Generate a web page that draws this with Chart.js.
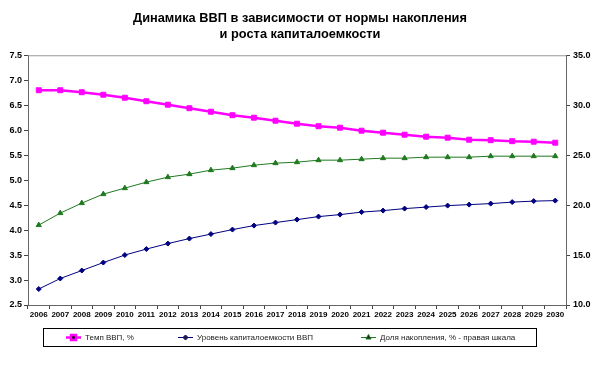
<!DOCTYPE html>
<html>
<head>
    <meta charset="utf-8">
    <title>Динамика ВВП</title>
    <script src="https://cdn.jsdelivr.net/npm/chart.js"></script>
    <style>
        body { margin: 0; background: #fff; }
    </style>
</head>
<body>
    <canvas id="gdpChart" width="600" height="371"></canvas>

    <script>
        // years on the x axis
        const years = ['2006', '2007', '2008', '2009', '2010', '2011', '2012', '2013', '2014', '2015', '2016', '2017',
            '2018', '2019', '2020', '2021', '2022', '2023', '2024', '2025', '2026', '2027', '2028', '2029', '2030'];

        // left scale
        const gdpGrowth = [6.80, 6.80, 6.76, 6.71, 6.65, 6.58, 6.51, 6.44, 6.37, 6.30, 6.25, 6.19,
            6.13, 6.08, 6.05, 5.99, 5.95, 5.91, 5.87, 5.85, 5.81, 5.80, 5.78, 5.77, 5.75];
        const capitalIntensity = [2.82, 3.03, 3.19, 3.35, 3.50, 3.62, 3.73, 3.83, 3.92, 4.01, 4.09, 4.15,
            4.21, 4.27, 4.31, 4.36, 4.39, 4.43, 4.46, 4.49, 4.51, 4.53, 4.56, 4.58, 4.59];

        // right scale
        const savingsShare = [18.0, 19.2, 20.2, 21.1, 21.7, 22.3, 22.8, 23.1, 23.5, 23.7, 24.0, 24.2,
            24.3, 24.5, 24.5, 24.6, 24.7, 24.7, 24.8, 24.8, 24.8, 24.9, 24.9, 24.9, 24.9];

        const seriesNames = ['Темп ВВП, %', 'Уровень капиталоемкости ВВП', 'Доля накопления, % - правая шкала'];

        // excel-style boxed legend under the chart + top border of the plot
        const boxLegend = {
            id: 'boxLegend',
            afterDraw(chart) {
                const ctx = chart.ctx;
                const area = chart.chartArea;
                ctx.save();
                ctx.strokeStyle = '#999';
                ctx.lineWidth = 1;
                ctx.beginPath();
                ctx.moveTo(area.left, area.top + 0.5);
                ctx.lineTo(area.right, area.top + 0.5);
                ctx.stroke();

                ctx.strokeStyle = '#000';
                ctx.strokeRect(43.5, 328.5, 493, 18);

                const itemX = [66, 178, 361];
                const y = 337.5;
                chart.data.datasets.forEach((ds, i) => {
                    const x = itemX[i];
                    ctx.strokeStyle = ds.borderColor;
                    ctx.lineWidth = ds.borderWidth;
                    ctx.beginPath();
                    ctx.moveTo(x, y);
                    ctx.lineTo(x + 15, y);
                    ctx.stroke();
                    Chart.helpers.drawPoint(ctx, {
                        pointStyle: ds.pointStyle,
                        radius: ds.pointRadius,
                        borderWidth: 1
                    }, x + 7.5, y);
                    ctx.fillStyle = '#222';
                    ctx.font = '8px "Liberation Sans", Arial, sans-serif';
                    ctx.textBaseline = 'middle';
                    ctx.textAlign = 'left';
                    ctx.fillText(ds.label, x + 19, y);
                });
                ctx.restore();
            }
        };

        const ctx = document.getElementById('gdpChart').getContext('2d');
        const tickFont = { family: '"Liberation Sans", Arial, sans-serif', size: 9, weight: 'bold' };

        const gdpChart = new Chart(ctx, {
            type: 'line',
            data: {
                labels: years,
                datasets: [
                    {
                        label: seriesNames[0],
                        data: gdpGrowth,
                        yAxisID: 'y',
                        borderColor: '#ff00ff',
                        backgroundColor: '#ff00ff',
                        borderWidth: 2.5,
                        pointStyle: 'rect',
                        pointRadius: 3.5,
                        pointBorderWidth: 1,
                        tension: 0
                    },
                    {
                        label: seriesNames[1],
                        data: capitalIntensity,
                        yAxisID: 'y',
                        borderColor: '#000080',
                        backgroundColor: '#000080',
                        borderWidth: 1,
                        pointStyle: 'rectRot',
                        pointRadius: 2.5,
                        pointBorderWidth: 1,
                        tension: 0
                    },
                    {
                        label: seriesNames[2],
                        data: savingsShare,
                        yAxisID: 'y1',
                        borderColor: '#1f7a1f',
                        backgroundColor: '#1f7a1f',
                        borderWidth: 1,
                        pointStyle: 'triangle',
                        pointRadius: 3,
                        pointBorderWidth: 1,
                        tension: 0
                    }
                ]
            },
            options: {
                responsive: false,
                animation: false,
                layout: { padding: { left: 0, right: 0, top: 0, bottom: 46 } },
                plugins: {
                    legend: { display: false },
                    tooltip: { enabled: false },
                    title: {
                        display: true,
                        text: ['Динамика ВВП в зависимости от нормы накопления', 'и роста капиталоемкости'],
                        color: '#000',
                        font: { family: '"Liberation Sans", Arial, sans-serif', size: 12.8, weight: 'bold', lineHeight: 1.3 },
                        padding: { top: 10, bottom: 12 }
                    }
                },
                scales: {
                    x: {
                        offset: true,
                        grid: { offset: true, drawOnChartArea: false, tickLength: 4, color: '#444' },
                        border: { color: '#666' },
                        ticks: { color: '#000', font: { ...tickFont, size: 8 }, maxRotation: 0, autoSkip: false, padding: 1 },
                        afterFit(scale) { scale.height = 20; }
                    },
                    y: {
                        position: 'left',
                        min: 2.5,
                        max: 7.5,
                        ticks: { stepSize: 0.5, color: '#000', font: tickFont, padding: 2, callback: v => v.toFixed(1) },
                        grid: { drawOnChartArea: false, tickLength: 4, color: '#444' },
                        border: { color: '#666' },
                        afterFit(scale) { scale.width = 28; }
                    },
                    y1: {
                        position: 'right',
                        min: 10,
                        max: 35,
                        ticks: { stepSize: 5, color: '#000', font: tickFont, padding: 3, callback: v => v.toFixed(1) },
                        grid: { drawOnChartArea: false, tickLength: 4, color: '#444' },
                        border: { color: '#666' },
                        afterFit(scale) { scale.width = 34; }
                    }
                }
            },
            plugins: [boxLegend]
        });
    </script>
</body>
</html>
